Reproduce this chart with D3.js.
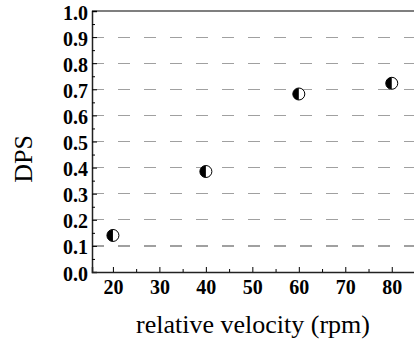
<!DOCTYPE html>
<html><head><meta charset="utf-8">
<script src="https://cdn.jsdelivr.net/npm/d3@7"></script>
<style>body{margin:0;background:#fff;}svg{display:block;} text{font-family:"Liberation Serif","Times New Roman",serif;}</style>
</head><body>
<script>
const velocity = [20, 40, 60, 80];
const dps = [0.14, 0.385, 0.682, 0.723];
const xTicks = [20, 30, 40, 50, 60, 70, 80];
const yTicks = [0.0, 0.1, 0.2, 0.3, 0.4, 0.5, 0.6, 0.7, 0.8, 0.9, 1.0];
const xLabel = "relative velocity (rpm)";
const yLabel = "DPS";

(function () {
const W = 414, H = 345;
const svg = d3.select("body").append("svg").attr("width", W).attr("height", H);
const mLeft = 92, mTop = 11, mBottom = 272, mRight = 415;
const x = d3.scaleLinear().domain([15.5, 85]).range([mLeft, mRight]);
const y = d3.scaleLinear().domain([0, 1]).range([mBottom, mTop]);

// gridlines
svg.append("g").selectAll("line").data(yTicks.filter(v => v > 0 && v < 1)).join("line")
  .attr("x1", mLeft).attr("x2", W).attr("y1", d => y(d)).attr("y2", d => y(d))
  .attr("stroke", "#a0a0a0").attr("stroke-width", 1.2).attr("stroke-dasharray", "12,14")
  .attr("shape-rendering", "crispEdges");
// top line
svg.append("line").attr("x1", mLeft).attr("x2", W).attr("y1", y(1)).attr("y2", y(1))
  .attr("stroke", "#555").attr("stroke-width", 1.5);

const font = '"Liberation Serif", "Times New Roman", serif';
// y axis
const yAxis = svg.append("g").attr("transform", `translate(${mLeft},0)`)
  .call(d3.axisLeft(y).tickValues(yTicks).tickSize(-5).tickPadding(4).tickFormat(d3.format(".1f")));
yAxis.attr("font-family", null);
yAxis.select(".domain").attr("stroke", "#222").attr("stroke-width", 1.5);
yAxis.selectAll(".tick line").attr("stroke", "#000");
yAxis.selectAll("text").style("font-family", font).style("font-weight", "bold").style("font-size", "20px").attr("fill", "#000").attr("dy", "0.4em");
svg.append("g").attr("transform", `translate(${mLeft},0)`)
  .call(d3.axisLeft(y).tickValues(d3.range(0.05, 1, 0.1)).tickSize(-3).tickFormat(""))
  .call(g => g.select(".domain").remove());

// x axis
const xAxis = svg.append("g").attr("transform", `translate(0,${mBottom})`)
  .call(d3.axisBottom(x).tickValues(xTicks).tickSize(-5).tickPadding(8));
xAxis.attr("font-family", null);
xAxis.select(".domain").attr("stroke", "#222").attr("stroke-width", 1.5);
xAxis.selectAll("text").style("font-family", font).style("font-weight", "bold").style("font-size", "20px").attr("fill", "#000");
svg.append("g").attr("transform", `translate(0,${mBottom})`)
  .call(d3.axisBottom(x).tickValues(d3.range(25, 85, 10)).tickSize(-3).tickFormat(""))
  .call(g => g.select(".domain").remove());

// labels
svg.append("text").attr("x", 253).attr("y", 333).attr("text-anchor", "middle")
  .style("font-family", font).style("font-size", "26px").text(xLabel);
svg.append("text").attr("transform", "translate(32,159) rotate(-90)").attr("text-anchor", "middle")
  .style("font-family", font).style("font-size", "26px").text(yLabel);

// markers
const pts = velocity.map((v, i) => ({v, d: dps[i]}));
const r = 6;
const m = svg.append("g").selectAll("g").data(pts).join("g")
  .attr("transform", d => `translate(${x(d.v)},${y(d.d)})`);
m.append("circle").attr("r", r).attr("fill", "#fff").attr("stroke", "#000").attr("stroke-width", 1);
m.append("path").attr("d", d3.arc()({innerRadius: 0, outerRadius: r, startAngle: Math.PI, endAngle: 2 * Math.PI}))
  .attr("fill", "#000");
})();
</script>
</body></html>
